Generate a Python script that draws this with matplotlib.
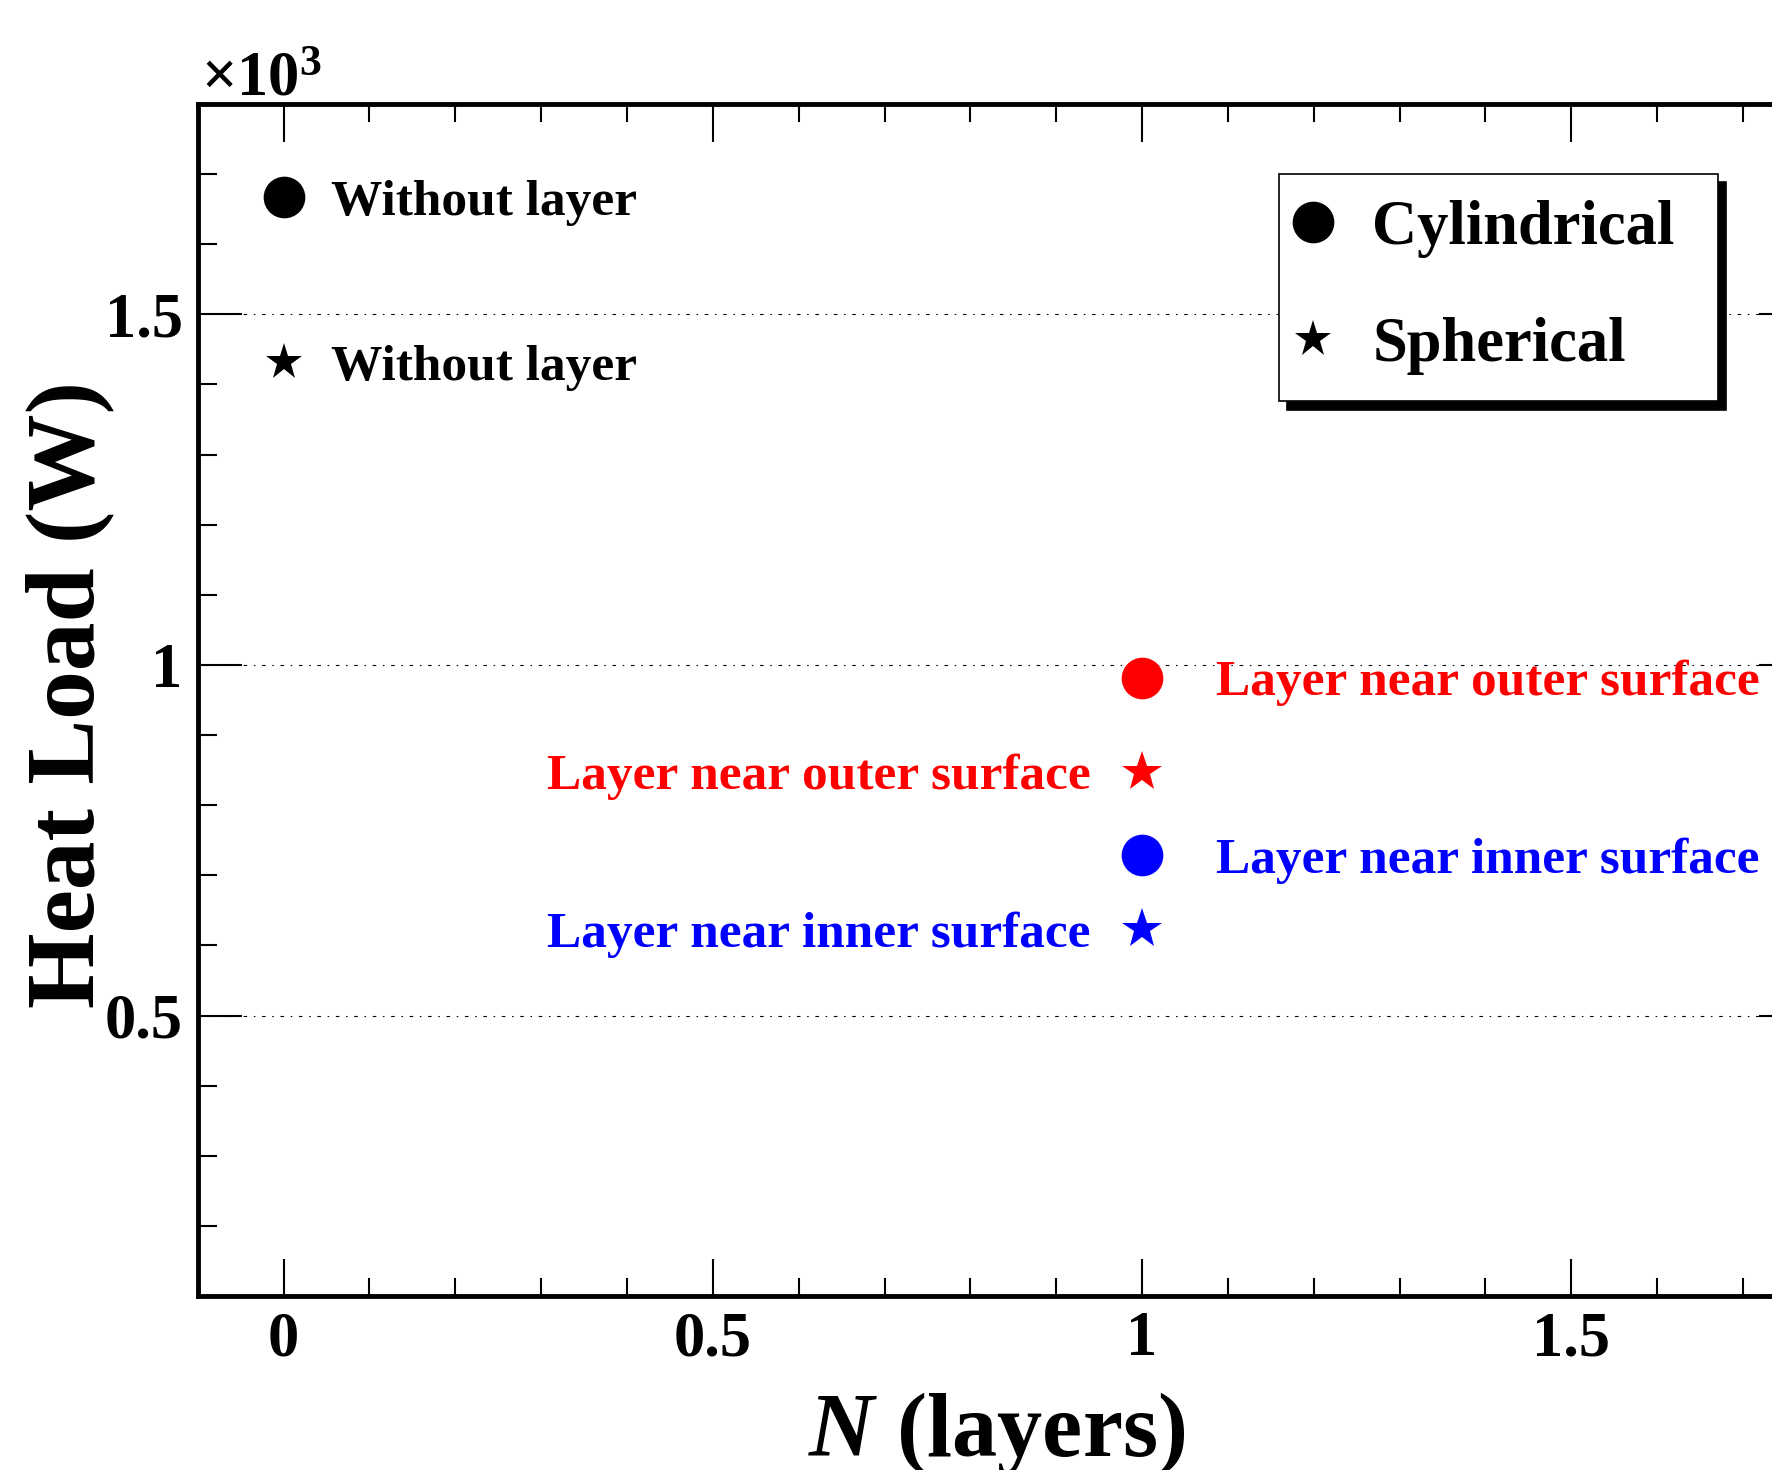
import matplotlib
matplotlib.use("Agg")
import matplotlib.pyplot as plt
import matplotlib.ticker as mtick
from matplotlib.lines import Line2D

# heat load (W), N = number of layers
layers_cyl = [0, 1, 1]
heat_cyl = [1667, 982, 729]
layers_sph = [0, 1, 1]
heat_sph = [1432, 848, 623]
point_colors = ['black', 'red', 'blue']
point_labels = ['Without layer', 'Layer near outer surface', 'Layer near inner surface']
legend_labels = ['Cylindrical', 'Spherical']
x_major = [0, 0.5, 1, 1.5]
y_major = [500, 1000, 1500]

plt.rcParams['font.family'] = ['Liberation Serif', 'DejaVu Serif']
plt.rcParams['font.weight'] = 'bold'
plt.rcParams['mathtext.fontset'] = 'custom'
plt.rcParams['mathtext.rm'] = 'Liberation Serif'
plt.rcParams['mathtext.it'] = 'Liberation Serif:italic:bold'
plt.rcParams['mathtext.bf'] = 'Liberation Serif:bold'

W, H = 1772, 1470
fig = plt.figure(figsize=(W / 100, H / 100), dpi=100)
left, right, top, bottom = 197.8, 1803, 104, 1296
ax = fig.add_axes([left / W, 1 - bottom / H, (right - left) / W, (bottom - top) / H])

ax.set_xlim(-0.1, 1.77)
ax.set_ylim(100, 1800)

# cylindrical: circles, spherical: stars
for x, y, c in zip(layers_cyl, heat_cyl, point_colors):
    ax.plot(x, y, marker='o', ls='none', color=c, ms=30, mew=0, zorder=3)
for x, y, c in zip(layers_sph, heat_sph, point_colors):
    ms = 28 if c == 'black' else 30
    ax.plot(x, y, marker='*', ls='none', color=c, ms=ms, mew=0, zorder=3)

# point labels (side and offset in points)
cyl_offsets = [34, 53, 53]
sph_offsets = [34, -37, -37]
for x, y, c, lab, dx in zip(layers_cyl, heat_cyl, point_colors, point_labels, cyl_offsets):
    ax.annotate(lab, (x, y), xytext=(dx, 0), textcoords='offset points',
                ha='left' if dx > 0 else 'right', va='center_baseline',
                color=c, fontsize=37, weight='bold')
for x, y, c, lab, dx in zip(layers_sph, heat_sph, point_colors, point_labels, sph_offsets):
    ax.annotate(lab, (x, y), xytext=(dx, 0), textcoords='offset points',
                ha='left' if dx > 0 else 'right', va='center_baseline',
                color=c, fontsize=37, weight='bold')

# axes styling (ROOT look)
for sp in ax.spines.values():
    sp.set_linewidth(3.5)
ax.xaxis.set_major_locator(mtick.FixedLocator(x_major))
ax.xaxis.set_minor_locator(mtick.MultipleLocator(0.1))
ax.yaxis.set_major_locator(mtick.FixedLocator(y_major))
ax.yaxis.set_minor_locator(mtick.MultipleLocator(100))
ax.xaxis.set_major_formatter(mtick.FuncFormatter(lambda v, _: f"{v:g}"))
ax.yaxis.set_major_formatter(mtick.FuncFormatter(lambda v, _: f"{v / 1000:g}"))
ax.tick_params(axis='x', which='major', direction='in', length=27, width=1.5,
               top=True, bottom=True, labelsize=45, pad=11)
ax.tick_params(axis='x', which='minor', direction='in', length=13, width=1.5,
               top=True, bottom=True)
ax.tick_params(axis='y', which='major', direction='in', length=32, width=1.5,
               left=True, right=True, labelsize=45, pad=11)
ax.tick_params(axis='y', which='minor', direction='in', length=14, width=1.5,
               left=True, right=True)
ax.yaxis.grid(True, which='major', color='black', linewidth=0.8,
              linestyle=(0, (1.4, 6.0, 3.2, 6.0)))

# legend with hard black shadow, box stretched to the reference width
handles = [Line2D([], [], marker='o', ls='none', color='black', ms=30, mew=0),
           Line2D([], [], marker='*', ls='none', color='black', ms=28, mew=0)]
leg = ax.legend(handles, legend_labels, loc='upper left', mode='expand',
                bbox_to_anchor=(1279 / W, 1 - 398 / H, 439 / W, 224 / H),
                bbox_transform=fig.transFigure,
                borderaxespad=0, fancybox=False, edgecolor='black', framealpha=1,
                borderpad=0.42, handlelength=0.25, handletextpad=0.82, labelspacing=0.94,
                prop={'family': 'Liberation Serif', 'weight': 'bold', 'size': 45},
                shadow={'ox': 6, 'oy': -6, 'facecolor': 'black', 'edgecolor': 'black', 'alpha': 1})
leg.get_frame().set_linewidth(1.2)

# axis titles and exponent
fig.text(70 / W, 1 - 695 / H, 'Heat Load (W)', rotation=90, ha='center', va='center',
         fontsize=70, weight='bold')
fig.text(997 / W, 1 - 1456 / H, r'$N$ (layers)', ha='center', va='baseline',
         fontsize=65, weight='bold')
fig.text(201 / W, 1 - 96 / H, r'$\times10^{3}$', ha='left', va='baseline', fontsize=45)

fig.savefig('out.png', dpi=100)
